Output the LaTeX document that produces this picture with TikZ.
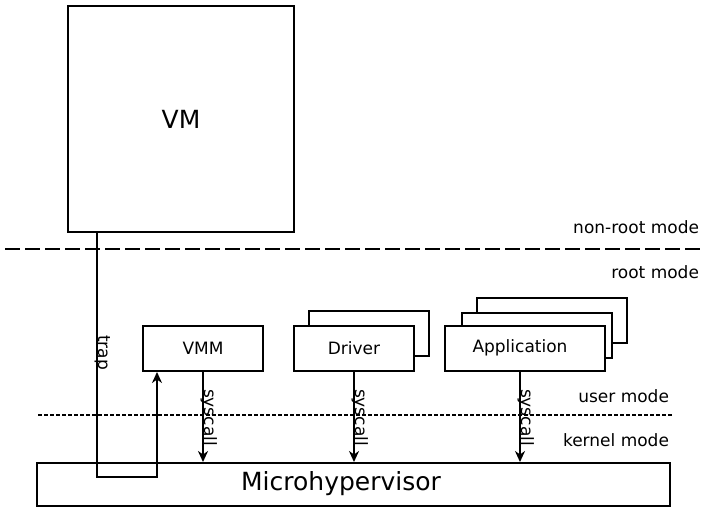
\documentclass[tikz,border=0pt]{standalone}
\usepackage{fontspec}
\setmainfont{DejaVu Sans}
\usetikzlibrary{arrows.meta}
\begin{document}
\begin{tikzpicture}[x=1pt,y=-1pt,
  line width=2pt,
  box/.style={draw, fill=white, inner sep=0pt, font=\fontsize{17}{19}\selectfont},
  modelabel/.style={anchor=east, inner sep=0pt, font=\fontsize{17}{19}\selectfont},
  vlabel/.style={rotate=-90, anchor=base west, inner sep=0pt, font=\fontsize{17}{19}\selectfont},
  arr/.style={-{Stealth[length=11pt,width=10pt,inset=3.5pt]}},
]
\useasboundingbox (0,0) rectangle (705,507);

% guest
\node[box, minimum width=226pt, minimum height=226pt, font=\fontsize{25}{28}\selectfont] (vm) at (181,119) {VM};

% mode separators
\coordinate (nrL) at (5,249);
\coordinate (nrR) at (705,249);
\draw[dash pattern=on 15pt off 5pt] (nrL) -- (nrR);
\coordinate (ukL) at (38,415);
\coordinate (ukR) at (672,415);
\draw[line width=1.6pt, dash pattern=on 3.5pt off 2.5pt] (ukL) -- (ukR);

\node[modelabel] (nonroot) at (700,227) {non-root mode};
\node[modelabel] (root) at (700,272) {root mode};
\node[modelabel] (user) at (670,396) {user mode};
\node[modelabel] (kernel) at (670,440) {kernel mode};

% user-level components
\node[box, minimum width=120pt, minimum height=45pt] (vmm) at (203,348.5) {VMM};

\node[box, minimum width=120pt, minimum height=45pt] (drv2) at (369,333.5) {};
\node[box, minimum width=120pt, minimum height=45pt] (drv) at (354,348.5) {Driver};

\node[box, minimum width=150pt, minimum height=45pt] (app3) at (552,320.5) {};
\node[box, minimum width=150pt, minimum height=45pt] (app2) at (537,335.5) {};
\node[box, minimum width=160pt, minimum height=45pt] (app) at (525,348.5) {};
\node[font=\fontsize{17}{19}\selectfont] (apptext) at (520,347.5) {Application};

% kernel
\node[box, minimum width=633pt, minimum height=43pt] (mhv) at (353.5,484.5) {};
\node[font=\fontsize{25}{28}\selectfont] (mhvtext) at (341,484) {Microhypervisor};

% trap path from the guest into the VMM
\coordinate (trapTop) at (vm.south -| 97,0);
\coordinate (trapC1) at (97,477);
\coordinate (trapC2) at (157,477);
\draw[arr] (trapTop) -- (trapC1) -- (trapC2) -- (trapC2 |- vmm.south);
\node[vlabel] (traplbl) at (98,334) {trap};

% system calls
\draw[arr] (vmm.south) -- (vmm.south |- mhv.north);
\node[vlabel] (sc1) at (204,388) {syscall};
\draw[arr] (drv.south) -- (drv.south |- mhv.north);
\node[vlabel] (sc2) at (355,388) {syscall};
\coordinate (appS) at (520,371);
\draw[arr] (appS) -- (appS |- mhv.north);
\node[vlabel] (sc3) at (521,388) {syscall};
\end{tikzpicture}
\end{document}
